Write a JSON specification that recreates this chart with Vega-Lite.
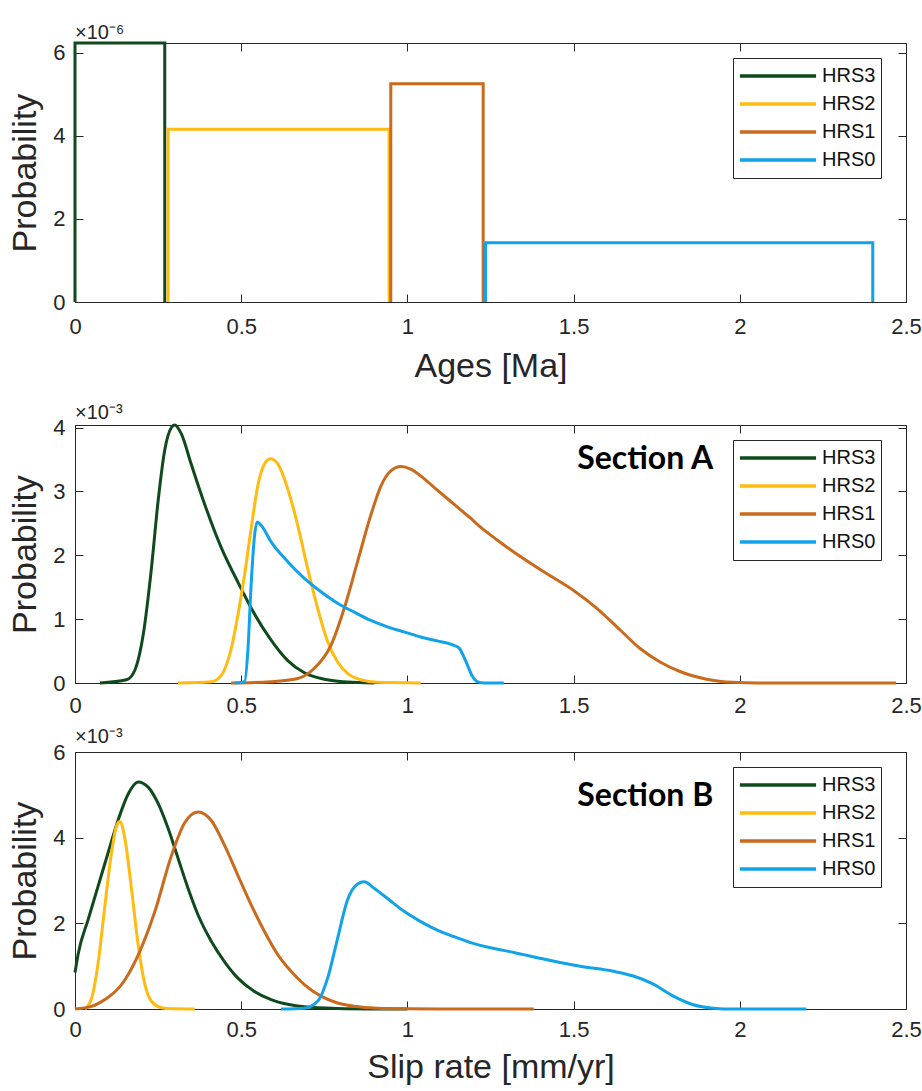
{
  "$schema": "https://vega.github.io/schema/vega-lite/v6.json",
  "padding": {"left": 8, "top": 22, "right": 0, "bottom": 0},
  "background": "white",
  "datasets": {
    "ages": [
      {"series": "HRS3", "i": 0, "age": 0, "p": 0},
      {"series": "HRS3", "i": 1, "age": 0, "p": 6.24},
      {"series": "HRS3", "i": 2, "age": 0.27, "p": 6.24},
      {"series": "HRS3", "i": 3, "age": 0.27, "p": 0},
      {"series": "HRS2", "i": 0, "age": 0.28, "p": 0},
      {"series": "HRS2", "i": 1, "age": 0.28, "p": 4.16},
      {"series": "HRS2", "i": 2, "age": 0.945, "p": 4.16},
      {"series": "HRS2", "i": 3, "age": 0.945, "p": 0},
      {"series": "HRS1", "i": 0, "age": 0.95, "p": 0},
      {"series": "HRS1", "i": 1, "age": 0.95, "p": 5.26},
      {"series": "HRS1", "i": 2, "age": 1.228, "p": 5.26},
      {"series": "HRS1", "i": 3, "age": 1.228, "p": 0},
      {"series": "HRS0", "i": 0, "age": 1.235, "p": 0},
      {"series": "HRS0", "i": 1, "age": 1.235, "p": 1.43},
      {"series": "HRS0", "i": 2, "age": 2.4, "p": 1.43},
      {"series": "HRS0", "i": 3, "age": 2.4, "p": 0}
    ],
    "sectionA": [
      {"series": "HRS3", "rate": 0.075, "p": 0}, {"series": "HRS3", "rate": 0.155, "p": 0.05}, {"series": "HRS3", "rate": 0.18, "p": 0.2}, {"series": "HRS3", "rate": 0.205, "p": 0.75}, {"series": "HRS3", "rate": 0.23, "p": 1.8}, {"series": "HRS3", "rate": 0.25, "p": 2.85}, {"series": "HRS3", "rate": 0.27, "p": 3.65}, {"series": "HRS3", "rate": 0.29, "p": 4.0}, {"series": "HRS3", "rate": 0.3, "p": 4.04}, {"series": "HRS3", "rate": 0.32, "p": 3.9}, {"series": "HRS3", "rate": 0.35, "p": 3.42}, {"series": "HRS3", "rate": 0.39, "p": 2.8}, {"series": "HRS3", "rate": 0.44, "p": 2.12}, {"series": "HRS3", "rate": 0.49, "p": 1.58}, {"series": "HRS3", "rate": 0.54, "p": 1.08}, {"series": "HRS3", "rate": 0.59, "p": 0.67}, {"series": "HRS3", "rate": 0.64, "p": 0.35}, {"series": "HRS3", "rate": 0.69, "p": 0.16}, {"series": "HRS3", "rate": 0.75, "p": 0.06}, {"series": "HRS3", "rate": 0.82, "p": 0.015}, {"series": "HRS3", "rate": 0.9, "p": 0},
      {"series": "HRS2", "rate": 0.31, "p": 0}, {"series": "HRS2", "rate": 0.41, "p": 0.02}, {"series": "HRS2", "rate": 0.44, "p": 0.12}, {"series": "HRS2", "rate": 0.47, "p": 0.54}, {"series": "HRS2", "rate": 0.49, "p": 1.06}, {"series": "HRS2", "rate": 0.51, "p": 1.69}, {"series": "HRS2", "rate": 0.53, "p": 2.42}, {"series": "HRS2", "rate": 0.55, "p": 3.09}, {"series": "HRS2", "rate": 0.57, "p": 3.43}, {"series": "HRS2", "rate": 0.588, "p": 3.51}, {"series": "HRS2", "rate": 0.61, "p": 3.43}, {"series": "HRS2", "rate": 0.64, "p": 3.04}, {"series": "HRS2", "rate": 0.67, "p": 2.47}, {"series": "HRS2", "rate": 0.7, "p": 1.79}, {"series": "HRS2", "rate": 0.73, "p": 1.17}, {"series": "HRS2", "rate": 0.76, "p": 0.65}, {"series": "HRS2", "rate": 0.79, "p": 0.33}, {"series": "HRS2", "rate": 0.82, "p": 0.15}, {"series": "HRS2", "rate": 0.86, "p": 0.05}, {"series": "HRS2", "rate": 0.91, "p": 0.01}, {"series": "HRS2", "rate": 1.04, "p": 0},
      {"series": "HRS1", "rate": 0.47, "p": 0}, {"series": "HRS1", "rate": 0.59, "p": 0.02}, {"series": "HRS1", "rate": 0.67, "p": 0.07}, {"series": "HRS1", "rate": 0.72, "p": 0.23}, {"series": "HRS1", "rate": 0.77, "p": 0.59}, {"series": "HRS1", "rate": 0.81, "p": 1.17}, {"series": "HRS1", "rate": 0.85, "p": 1.9}, {"series": "HRS1", "rate": 0.89, "p": 2.63}, {"series": "HRS1", "rate": 0.92, "p": 3.08}, {"series": "HRS1", "rate": 0.95, "p": 3.32}, {"series": "HRS1", "rate": 0.98, "p": 3.39}, {"series": "HRS1", "rate": 1.01, "p": 3.35}, {"series": "HRS1", "rate": 1.05, "p": 3.2}, {"series": "HRS1", "rate": 1.09, "p": 3.02}, {"series": "HRS1", "rate": 1.14, "p": 2.8}, {"series": "HRS1", "rate": 1.19, "p": 2.58}, {"series": "HRS1", "rate": 1.22, "p": 2.44}, {"series": "HRS1", "rate": 1.27, "p": 2.24}, {"series": "HRS1", "rate": 1.32, "p": 2.05}, {"series": "HRS1", "rate": 1.42, "p": 1.71}, {"series": "HRS1", "rate": 1.5, "p": 1.45}, {"series": "HRS1", "rate": 1.57, "p": 1.17}, {"series": "HRS1", "rate": 1.64, "p": 0.83}, {"series": "HRS1", "rate": 1.7, "p": 0.54}, {"series": "HRS1", "rate": 1.76, "p": 0.33}, {"series": "HRS1", "rate": 1.82, "p": 0.18}, {"series": "HRS1", "rate": 1.9, "p": 0.06}, {"series": "HRS1", "rate": 1.98, "p": 0.01}, {"series": "HRS1", "rate": 2.05, "p": 0}, {"series": "HRS1", "rate": 2.47, "p": 0},
      {"series": "HRS0", "rate": 0.48, "p": 0}, {"series": "HRS0", "rate": 0.51, "p": 0.02}, {"series": "HRS0", "rate": 0.52, "p": 0.5}, {"series": "HRS0", "rate": 0.53, "p": 1.55}, {"series": "HRS0", "rate": 0.54, "p": 2.3}, {"series": "HRS0", "rate": 0.548, "p": 2.52}, {"series": "HRS0", "rate": 0.56, "p": 2.47}, {"series": "HRS0", "rate": 0.59, "p": 2.21}, {"series": "HRS0", "rate": 0.64, "p": 1.9}, {"series": "HRS0", "rate": 0.69, "p": 1.64}, {"series": "HRS0", "rate": 0.74, "p": 1.43}, {"series": "HRS0", "rate": 0.79, "p": 1.25}, {"series": "HRS0", "rate": 0.84, "p": 1.11}, {"series": "HRS0", "rate": 0.89, "p": 0.98}, {"series": "HRS0", "rate": 0.94, "p": 0.88}, {"series": "HRS0", "rate": 0.99, "p": 0.8}, {"series": "HRS0", "rate": 1.04, "p": 0.72}, {"series": "HRS0", "rate": 1.09, "p": 0.66}, {"series": "HRS0", "rate": 1.14, "p": 0.59}, {"series": "HRS0", "rate": 1.155, "p": 0.55}, {"series": "HRS0", "rate": 1.175, "p": 0.35}, {"series": "HRS0", "rate": 1.195, "p": 0.11}, {"series": "HRS0", "rate": 1.21, "p": 0.02}, {"series": "HRS0", "rate": 1.23, "p": 0}, {"series": "HRS0", "rate": 1.29, "p": 0}
    ],
    "sectionB": [
      {"series": "HRS3", "rate": 0, "p": 0.85}, {"series": "HRS3", "rate": 0.01, "p": 1.3}, {"series": "HRS3", "rate": 0.04, "p": 2.1}, {"series": "HRS3", "rate": 0.07, "p": 2.88}, {"series": "HRS3", "rate": 0.1, "p": 3.66}, {"series": "HRS3", "rate": 0.13, "p": 4.42}, {"series": "HRS3", "rate": 0.16, "p": 5.02}, {"series": "HRS3", "rate": 0.19, "p": 5.3}, {"series": "HRS3", "rate": 0.22, "p": 5.18}, {"series": "HRS3", "rate": 0.25, "p": 4.8}, {"series": "HRS3", "rate": 0.28, "p": 4.22}, {"series": "HRS3", "rate": 0.31, "p": 3.52}, {"series": "HRS3", "rate": 0.34, "p": 2.82}, {"series": "HRS3", "rate": 0.37, "p": 2.2}, {"series": "HRS3", "rate": 0.41, "p": 1.58}, {"series": "HRS3", "rate": 0.45, "p": 1.1}, {"series": "HRS3", "rate": 0.49, "p": 0.72}, {"series": "HRS3", "rate": 0.54, "p": 0.41}, {"series": "HRS3", "rate": 0.59, "p": 0.22}, {"series": "HRS3", "rate": 0.64, "p": 0.11}, {"series": "HRS3", "rate": 0.69, "p": 0.05}, {"series": "HRS3", "rate": 0.79, "p": 0.012}, {"series": "HRS3", "rate": 0.89, "p": 0.002}, {"series": "HRS3", "rate": 1.0, "p": 0},
      {"series": "HRS2", "rate": 0.03, "p": 0}, {"series": "HRS2", "rate": 0.05, "p": 0.25}, {"series": "HRS2", "rate": 0.07, "p": 1.1}, {"series": "HRS2", "rate": 0.09, "p": 2.42}, {"series": "HRS2", "rate": 0.11, "p": 3.66}, {"series": "HRS2", "rate": 0.125, "p": 4.28}, {"series": "HRS2", "rate": 0.135, "p": 4.38}, {"series": "HRS2", "rate": 0.15, "p": 3.98}, {"series": "HRS2", "rate": 0.17, "p": 2.8}, {"series": "HRS2", "rate": 0.19, "p": 1.5}, {"series": "HRS2", "rate": 0.21, "p": 0.58}, {"series": "HRS2", "rate": 0.23, "p": 0.18}, {"series": "HRS2", "rate": 0.26, "p": 0.03}, {"series": "HRS2", "rate": 0.29, "p": 0.005}, {"series": "HRS2", "rate": 0.36, "p": 0},
      {"series": "HRS1", "rate": 0, "p": 0}, {"series": "HRS1", "rate": 0.05, "p": 0.06}, {"series": "HRS1", "rate": 0.09, "p": 0.22}, {"series": "HRS1", "rate": 0.14, "p": 0.57}, {"series": "HRS1", "rate": 0.19, "p": 1.26}, {"series": "HRS1", "rate": 0.24, "p": 2.27}, {"series": "HRS1", "rate": 0.29, "p": 3.58}, {"series": "HRS1", "rate": 0.33, "p": 4.35}, {"series": "HRS1", "rate": 0.37, "p": 4.6}, {"series": "HRS1", "rate": 0.41, "p": 4.4}, {"series": "HRS1", "rate": 0.45, "p": 3.82}, {"series": "HRS1", "rate": 0.49, "p": 3.12}, {"series": "HRS1", "rate": 0.53, "p": 2.43}, {"series": "HRS1", "rate": 0.57, "p": 1.81}, {"series": "HRS1", "rate": 0.61, "p": 1.27}, {"series": "HRS1", "rate": 0.65, "p": 0.88}, {"series": "HRS1", "rate": 0.69, "p": 0.57}, {"series": "HRS1", "rate": 0.74, "p": 0.3}, {"series": "HRS1", "rate": 0.79, "p": 0.14}, {"series": "HRS1", "rate": 0.84, "p": 0.065}, {"series": "HRS1", "rate": 0.91, "p": 0.02}, {"series": "HRS1", "rate": 1.0, "p": 0.005}, {"series": "HRS1", "rate": 1.1, "p": 0}, {"series": "HRS1", "rate": 1.38, "p": 0},
      {"series": "HRS0", "rate": 0.62, "p": 0}, {"series": "HRS0", "rate": 0.69, "p": 0.02}, {"series": "HRS0", "rate": 0.73, "p": 0.18}, {"series": "HRS0", "rate": 0.76, "p": 0.72}, {"series": "HRS0", "rate": 0.79, "p": 1.65}, {"series": "HRS0", "rate": 0.82, "p": 2.55}, {"series": "HRS0", "rate": 0.85, "p": 2.92}, {"series": "HRS0", "rate": 0.87, "p": 2.97}, {"series": "HRS0", "rate": 0.9, "p": 2.82}, {"series": "HRS0", "rate": 0.94, "p": 2.58}, {"series": "HRS0", "rate": 0.99, "p": 2.28}, {"series": "HRS0", "rate": 1.04, "p": 2.04}, {"series": "HRS0", "rate": 1.09, "p": 1.84}, {"series": "HRS0", "rate": 1.14, "p": 1.69}, {"series": "HRS0", "rate": 1.19, "p": 1.55}, {"series": "HRS0", "rate": 1.25, "p": 1.43}, {"series": "HRS0", "rate": 1.32, "p": 1.32}, {"series": "HRS0", "rate": 1.42, "p": 1.15}, {"series": "HRS0", "rate": 1.52, "p": 1.0}, {"series": "HRS0", "rate": 1.62, "p": 0.88}, {"series": "HRS0", "rate": 1.68, "p": 0.77}, {"series": "HRS0", "rate": 1.74, "p": 0.58}, {"series": "HRS0", "rate": 1.8, "p": 0.3}, {"series": "HRS0", "rate": 1.86, "p": 0.1}, {"series": "HRS0", "rate": 1.92, "p": 0.02}, {"series": "HRS0", "rate": 1.98, "p": 0}, {"series": "HRS0", "rate": 2.2, "p": 0}
    ],
    "labelA": [{"rate": 1.92, "p": 3.5, "label": "Section A"}],
    "labelB": [{"rate": 1.92, "p": 4.98, "label": "Section B"}]
  },
  "spacing": 18,
  "resolve": {"scale": {"color": "independent", "x": "independent", "y": "independent"}, "legend": {"color": "independent"}},
  "vconcat": [
    {
      "width": 831, "height": 259,
      "title": {"text": "×10⁻⁶"},
      "resolve": {"axis": {"x": "independent", "y": "independent"}},
      "layer": [
        {
          "data": {"name": "ages"},
          "mark": {"type": "line", "strokeWidth": 3},
          "encoding": {
            "x": {"field": "age", "type": "quantitative", "scale": {"domain": [0, 2.5], "nice": false},
                  "axis": {"title": "Ages [Ma]", "values": [0, 0.5, 1, 1.5, 2, 2.5], "format": "~g", "labelPadding": 22, "titlePadding": 12}},
            "y": {"field": "p", "type": "quantitative", "scale": {"domain": [0, 6.24], "nice": false},
                  "axis": {"title": "Probability", "values": [0, 2, 4, 6]}},
            "color": {"field": "series", "type": "nominal",
                      "scale": {"domain": ["HRS3", "HRS2", "HRS1", "HRS0"], "range": ["#0f4a1c", "#ffbb10", "#c96a1c", "#11a3ea"]},
                      "legend": {"orient": "none", "legendX": 658, "legendY": 15}},
            "order": {"field": "i", "type": "quantitative"}
          }
        },
        {
          "data": {"name": "ages"},
          "mark": {"type": "point", "opacity": 0},
          "encoding": {
            "x": {"field": "age", "type": "quantitative", "scale": {"domain": [0, 2.5], "nice": false},
                  "axis": {"orient": "top", "title": null, "labels": false, "values": [0, 0.5, 1, 1.5, 2, 2.5]}},
            "y": {"field": "p", "type": "quantitative", "scale": {"domain": [0, 6.24], "nice": false},
                  "axis": {"orient": "right", "title": null, "labels": false, "values": [0, 2, 4, 6]}}
          }
        }
      ]
    },
    {
      "spacing": 9,
      "resolve": {"scale": {"color": "independent", "x": "independent", "y": "independent"}, "legend": {"color": "independent"}},
      "vconcat": [
        {
          "width": 831, "height": 258,
          "title": {"text": "×10⁻³"},
          "resolve": {"axis": {"x": "independent", "y": "independent"}},
          "layer": [
            {
              "data": {"name": "sectionA"},
              "mark": {"type": "line", "strokeWidth": 3, "interpolate": "monotone"},
              "encoding": {
                "x": {"field": "rate", "type": "quantitative", "scale": {"domain": [0, 2.5], "nice": false},
                      "axis": {"title": null, "values": [0, 0.5, 1, 1.5, 2, 2.5], "format": "~g", "labelPadding": 20}},
                "y": {"field": "p", "type": "quantitative", "scale": {"domain": [0, 4.04], "nice": false},
                      "axis": {"title": "Probability", "values": [0, 1, 2, 3, 4]}},
                "color": {"field": "series", "type": "nominal",
                          "scale": {"domain": ["HRS3", "HRS2", "HRS1", "HRS0"], "range": ["#0f4a1c", "#ffbb10", "#c96a1c", "#11a3ea"]},
                          "legend": {"orient": "none", "legendX": 658, "legendY": 15}}
              }
            },
            {
              "data": {"name": "labelA"},
              "mark": {"type": "text", "font": "Lato", "fontWeight": "bold", "fontSize": 32, "align": "right", "baseline": "middle", "color": "#000000"},
              "encoding": {
                "x": {"field": "rate", "type": "quantitative", "scale": {"domain": [0, 2.5], "nice": false},
                      "axis": {"orient": "top", "title": null, "labels": false, "values": [0, 0.5, 1, 1.5, 2, 2.5]}},
                "y": {"field": "p", "type": "quantitative", "scale": {"domain": [0, 4.04], "nice": false},
                      "axis": {"orient": "right", "title": null, "labels": false, "values": [0, 1, 2, 3, 4]}},
                "text": {"field": "label", "type": "nominal"}
              }
            }
          ]
        },
        {
          "width": 831, "height": 257,
          "title": {"text": "×10⁻³"},
          "resolve": {"axis": {"x": "independent", "y": "independent"}},
          "layer": [
            {
              "data": {"name": "sectionB"},
              "mark": {"type": "line", "strokeWidth": 3, "interpolate": "monotone"},
              "encoding": {
                "x": {"field": "rate", "type": "quantitative", "scale": {"domain": [0, 2.5], "nice": false},
                      "axis": {"title": "Slip rate [mm/yr]", "values": [0, 0.5, 1, 1.5, 2, 2.5], "format": "~g", "labelPadding": 18, "titlePadding": 10}},
                "y": {"field": "p", "type": "quantitative", "scale": {"domain": [0, 6], "nice": false},
                      "axis": {"title": "Probability", "values": [0, 2, 4, 6]}},
                "color": {"field": "series", "type": "nominal",
                          "scale": {"domain": ["HRS3", "HRS2", "HRS1", "HRS0"], "range": ["#0f4a1c", "#ffbb10", "#c96a1c", "#11a3ea"]},
                          "legend": {"orient": "none", "legendX": 658, "legendY": 15}}
              }
            },
            {
              "data": {"name": "labelB"},
              "mark": {"type": "text", "font": "Lato", "fontWeight": "bold", "fontSize": 32, "align": "right", "baseline": "middle", "color": "#000000"},
              "encoding": {
                "x": {"field": "rate", "type": "quantitative", "scale": {"domain": [0, 2.5], "nice": false},
                      "axis": {"orient": "top", "title": null, "labels": false, "values": [0, 0.5, 1, 1.5, 2, 2.5]}},
                "y": {"field": "p", "type": "quantitative", "scale": {"domain": [0, 6], "nice": false},
                      "axis": {"orient": "right", "title": null, "labels": false, "values": [0, 2, 4, 6]}},
                "text": {"field": "label", "type": "nominal"}
              }
            }
          ]
        }
      ]
    }
  ],
  "config": {
    "view": {"stroke": "#262626", "strokeWidth": 1},
    "axis": {"domain": false, "grid": false, "tickColor": "#262626", "tickWidth": 1, "tickSize": -8,
             "labelColor": "#262626", "labelFont": "Liberation Sans", "labelFontSize": 22, "labelFlush": false, "labelPadding": 18,
             "titleFont": "Liberation Sans", "titleFontSize": 34, "titleFontWeight": "normal", "titleColor": "#262626", "titlePadding": 10},
    "legend": {"title": null, "symbolType": "stroke", "symbolSize": 5800, "symbolStrokeWidth": 3.5, "clipHeight": 26, "rowPadding": 2,
               "labelFont": "Liberation Sans", "labelFontSize": 20, "labelColor": "#111111", "labelOffset": 4,
               "strokeColor": "#262626", "fillColor": "#ffffff", "padding": 5},
    "title": {"anchor": "start", "frame": "group", "font": "Liberation Sans", "fontSize": 20, "fontWeight": "normal", "color": "#262626", "offset": -6}
  }
}
